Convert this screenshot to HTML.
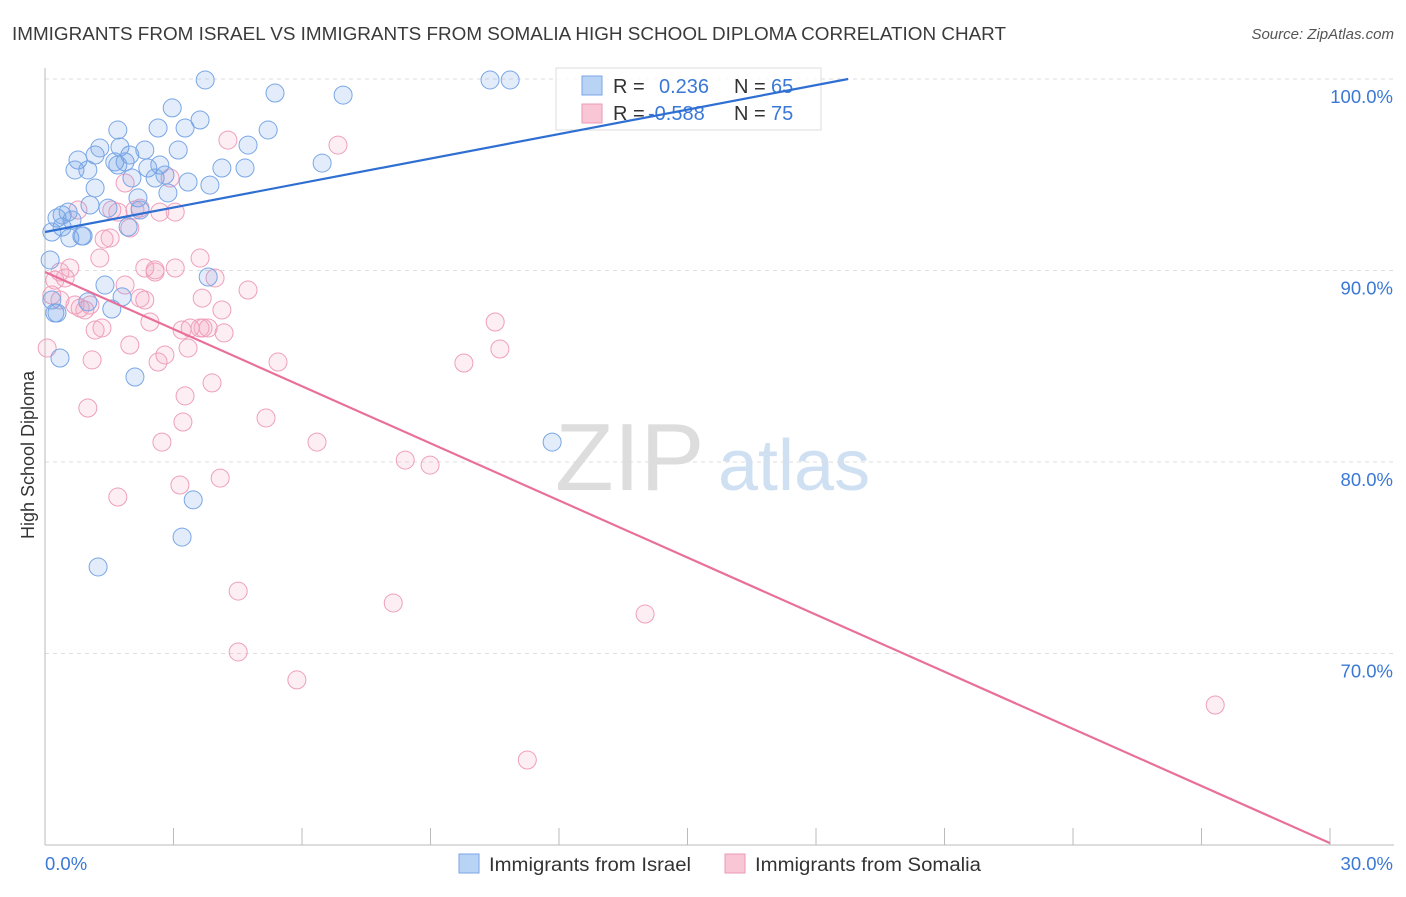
<!DOCTYPE html>
<html><head><meta charset="utf-8"><style>
body{margin:0;background:#fff;font-family:"Liberation Sans",sans-serif;}
svg text{font-family:"Liberation Sans",sans-serif;}
</style></head><body>
<svg id="chart" width="1406" height="892" xmlns="http://www.w3.org/2000/svg">
<text x="12" y="40" font-size="18" fill="#3a3a3a" textLength="994" lengthAdjust="spacingAndGlyphs">IMMIGRANTS FROM ISRAEL VS IMMIGRANTS FROM SOMALIA HIGH SCHOOL DIPLOMA CORRELATION CHART</text>
<text x="1394" y="39" font-size="15" fill="#555" font-style="italic" text-anchor="end">Source: ZipAtlas.com</text>
<g>
<text x="555" y="490" font-size="96" fill="#ddd" font-family="Liberation Serif,serif">ZIP</text>
<text x="718" y="490" font-size="72" fill="#cfe0f3">atlas</text>
</g>
<g id="grid"></g>
<g id="axes"></g>
<g id="points"></g>
<g>
<rect x="556" y="68" width="265" height="62" fill="#fff" fill-opacity="0.75" stroke="#ddd"/>
<rect x="582" y="76" width="20" height="19" fill="#b9d3f5" stroke="#7aa6e6"/>
<rect x="582" y="104" width="20" height="19" fill="#f9c6d6" stroke="#eb9ab6"/>
<text x="613" y="93" font-size="20" fill="#333">R = </text><text x="659" y="93" font-size="20" fill="#3a78d6">0.236</text>
<text x="734" y="93" font-size="20" fill="#333">N = </text><text x="771" y="93" font-size="20" fill="#3a78d6">65</text>
<text x="613" y="120" font-size="20" fill="#333">R = </text><text x="648" y="120" font-size="20" fill="#3a78d6">-0.588</text>
<text x="734" y="120" font-size="20" fill="#333">N = </text><text x="771" y="120" font-size="20" fill="#3a78d6">75</text>
</g>
<g id="lines"></g>
<text transform="translate(34,455) rotate(-90)" font-size="18" fill="#333" text-anchor="middle">High School Diploma</text>
<g>
<rect x="459" y="854" width="20" height="19" fill="#b9d3f5" stroke="#7aa6e6"/>
<text x="489" y="871" font-size="19" fill="#333" textLength="202" lengthAdjust="spacingAndGlyphs">Immigrants from Israel</text>
<rect x="725" y="854" width="20" height="19" fill="#f9c6d6" stroke="#eb9ab6"/>
<text x="755" y="871" font-size="19" fill="#333" textLength="226" lengthAdjust="spacingAndGlyphs">Immigrants from Somalia</text>
</g>
</svg>
<script>
const israelX=[0.16,0.28,0.40,0.54,0.23,0.12,0.16,0.35,0.58,0.70,0.77,1.00,1.17,1.28,1.17,1.05,0.86,1.47,1.63,1.70,1.75,1.87,1.98,2.03,2.17,2.33,2.40,2.57,2.68,2.64,2.80,2.87,2.97,3.11,3.27,3.34,3.62,3.74,3.85,4.13,4.67,4.74,5.21,5.37,6.47,6.96,10.39,10.86,1.40,1.80,1.56,2.10,3.81,3.46,3.20,1.24,11.84,0.89,0.63,0.40,1.70,2.22,1.94,1.00,0.28];
const israelY=[92.01,92.74,92.90,93.05,87.78,90.55,88.46,85.43,91.70,95.25,95.77,95.25,96.03,96.40,94.31,93.42,91.80,93.26,95.67,97.34,96.45,95.67,96.03,94.83,93.79,96.29,95.35,94.83,95.51,97.44,94.99,94.05,98.49,96.29,97.44,94.62,97.86,99.95,94.46,95.35,95.35,96.55,97.34,99.27,95.61,99.16,99.95,99.95,89.24,88.62,87.99,84.44,89.66,78.02,76.08,74.52,81.04,91.80,92.64,92.27,95.51,93.16,92.27,88.36,87.78];
const somaliaX=[0.05,0.16,0.23,0.35,0.47,0.58,0.70,0.82,0.93,1.05,1.17,1.28,1.33,1.10,1.00,1.52,1.56,1.70,1.87,1.98,2.10,2.22,2.33,2.45,2.57,2.68,2.64,2.73,2.80,2.92,3.04,3.04,3.15,3.22,3.27,3.34,3.39,3.62,3.67,3.69,3.81,3.90,3.97,4.09,4.13,4.18,4.27,4.51,4.51,4.74,5.16,5.44,5.88,6.35,6.84,8.13,8.41,8.99,9.78,10.51,10.62,11.26,14.01,27.32,1.87,2.22,1.70,1.38,0.77,2.57,2.33,1.98,3.62,3.20,0.35];
const somaliaY=[85.95,88.72,89.50,89.92,89.61,90.13,88.20,88.04,87.94,88.20,86.89,90.65,87.00,85.33,82.82,91.70,93.16,93.05,94.57,92.22,93.16,93.26,90.13,87.31,89.92,93.05,85.22,81.04,85.59,94.83,93.05,90.13,78.80,82.09,83.45,85.95,87.00,90.65,88.56,87.00,87.00,84.13,89.61,79.16,87.94,86.74,96.81,73.26,70.08,88.98,82.30,85.22,68.62,81.04,96.55,72.64,80.10,79.84,85.17,87.31,85.90,64.44,72.06,67.31,89.24,88.56,78.17,91.64,93.16,90.03,88.46,86.11,87.00,86.89,88.46];
const israelTrend=[92.01,100.0];const israelTrendX=[0,18.75];
const somaliaTrend=[89.92,60.1];const somaliaTrendX=[0,30];
const yTicks=[100,90,80,70];const yTickLabels=["100.0%","90.0%","80.0%","70.0%"];
const xTicks=[0,3,6,9,12,15,18,21,24,27,30];
const NS="http://www.w3.org/2000/svg";
const X=v=>45+v/30*1285, Y=v=>79+(100-v)*19.15;
function mk(tag,attrs,parent){const e=document.createElementNS(NS,tag);for(const k in attrs)e.setAttribute(k,attrs[k]);document.getElementById(parent).appendChild(e);return e;}
yTicks.forEach((t,i)=>{
 const l=mk('line',{x1:45,x2:1394,y1:Y(t),y2:Y(t),stroke:'#ddd','stroke-dasharray':'4,4'},'grid');
 
 
 const tx=mk('text',{x:1393,y:Y(t)+24,'font-size':18.5,fill:'#3a78d6','text-anchor':'end'},'grid');
 tx.textContent=yTickLabels[i];
 
 
});
mk('line',{x1:45,x2:45,y1:68,y2:845,stroke:'#bbb'},'axes');
mk('line',{x1:45,x2:1394,y1:845,y2:845,stroke:'#bbb'},'axes');
xTicks.forEach(t=>{const l=mk('line',{x1:X(t),x2:X(t),y1:828,y2:845,stroke:'#bbb'},'axes');
 
 });
let a=mk('text',{x:45,y:870,'font-size':18.5,fill:'#3a78d6'},'axes');a.textContent='0.0%';


a=mk('text',{x:1393,y:870,'font-size':18.5,fill:'#3a78d6','text-anchor':'end'},'axes');a.textContent='30.0%';


function pts(xs,ys,fill,stroke,name){xs.forEach((x,i)=>{const c=mk('circle',{cx:X(x),cy:Y(ys[i]),r:9,fill:fill,stroke:stroke,'stroke-width':1},'points');
 
 });}
pts(somaliaX,somaliaY,'rgba(243,160,190,0.18)','#ee9fbb','point-somalia');
pts(israelX,israelY,'rgba(110,160,230,0.2)','#79a6e6','point-israel');
let t1=mk('line',{x1:X(israelTrendX[0]),y1:Y(israelTrend[0]),x2:X(israelTrendX[1]),y2:Y(israelTrend[1]),stroke:'#2f6fd2','stroke-width':2.2},'lines');


let t2=mk('line',{x1:X(somaliaTrendX[0]),y1:Y(somaliaTrend[0]),x2:X(somaliaTrendX[1]),y2:Y(somaliaTrend[1]),stroke:'#e8709a','stroke-width':2.2},'lines');


</script>
</body></html>
